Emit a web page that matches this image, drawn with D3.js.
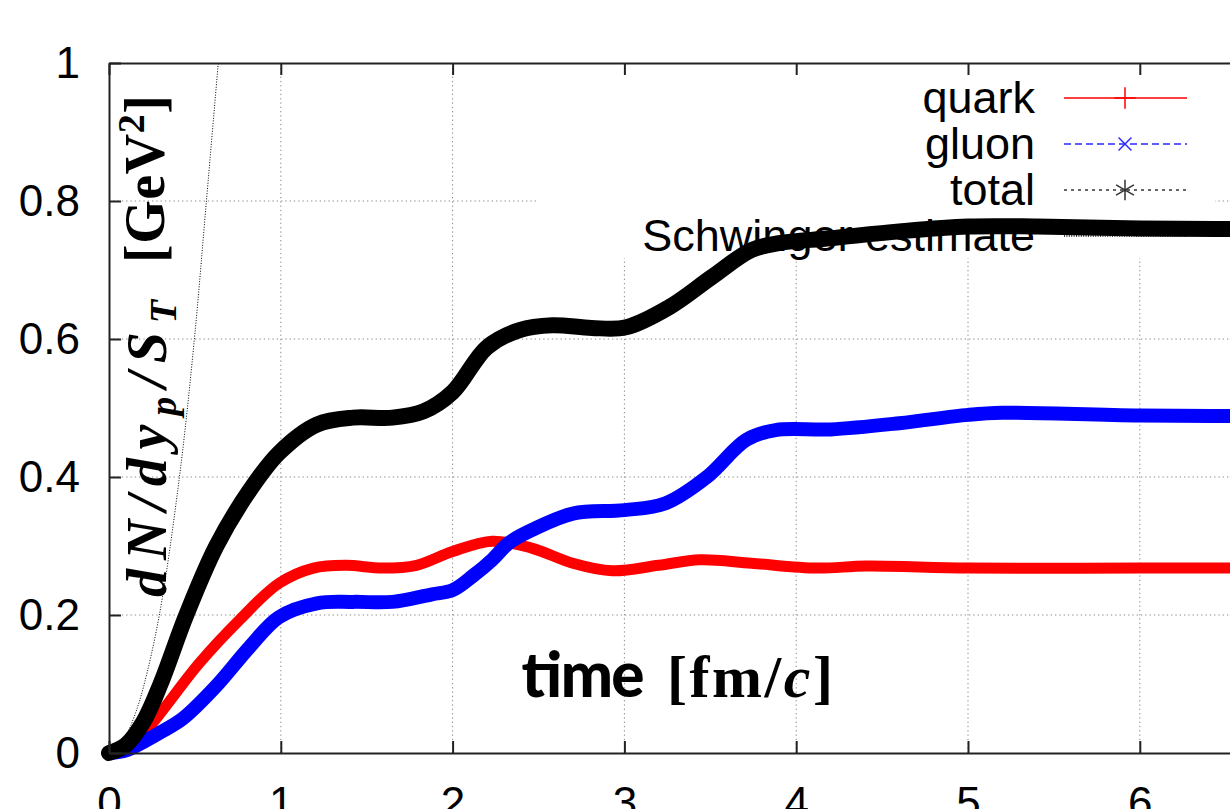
<!DOCTYPE html>
<html>
<head>
<meta charset="utf-8">
<script src="https://cdn.jsdelivr.net/npm/d3@7"></script>
<style>
body{margin:0;background:#fff}
svg{display:block}
</style>
</head>
<body>
<svg id="chart" width="1230" height="809"></svg>
<script>
// [time fm/c, dN/dy/S_T GeV^2]
var quark = [[0,0],[0.1,0.008],[0.2,0.028],[0.3,0.058],[0.525,0.13],[0.76,0.193],[0.99,0.246],[1.19,0.268],[1.38,0.272],[1.59,0.268],[1.79,0.272],[2.0,0.292],[2.23,0.307],[2.46,0.297],[2.7,0.275],[2.93,0.264],[3.2,0.272],[3.44,0.28],[3.74,0.275],[4.12,0.268],[4.41,0.271],[5.0,0.268],[6.0,0.268],[7,0.268]]
var gluon = [[0,0],[0.1,0.004],[0.2,0.016],[0.3,0.03],[0.43,0.05],[0.62,0.096],[0.82,0.154],[0.99,0.197],[1.21,0.217],[1.42,0.219],[1.65,0.219],[1.88,0.23],[2.0,0.236],[2.12,0.257],[2.23,0.28],[2.33,0.305],[2.46,0.323],[2.7,0.347],[3.0,0.352],[3.24,0.362],[3.48,0.4],[3.71,0.454],[3.88,0.468],[4.2,0.469],[4.6,0.478],[5.0,0.49],[5.2,0.493],[6.0,0.489],[7,0.488]]
var total = [[0,0],[0.1,0.012],[0.2,0.045],[0.3,0.1],[0.45,0.2],[0.625,0.3],[0.82,0.381],[0.99,0.435],[1.21,0.476],[1.42,0.486],[1.65,0.486],[1.83,0.495],[2.0,0.523],[2.2,0.588],[2.39,0.613],[2.58,0.62],[2.81,0.616],[3.01,0.617],[3.26,0.646],[3.51,0.69],[3.74,0.729],[3.9,0.739],[4.2,0.746],[4.6,0.756],[5.0,0.763],[5.4,0.763],[6.0,0.76],[7,0.759]]
var schwinger = [[0,0],[0.05,0.006],[0.1,0.025],[0.15,0.055],[0.2,0.095],[0.293,0.2],[0.41,0.4],[0.497,0.6],[0.567,0.8],[0.636,1.0]]

var xTicks = [0,1,2,3,4,5,6,7]
var xTickLabels = ['0','1','2','3','4','5','6','7']
var yTicks = [0,0.2,0.4,0.6,0.8,1]
var yTickLabels = ['0','0.2','0.4','0.6','0.8','1']
var legendLabels = ['quark','gluon','total','Schwinger estimate']

const xScale = d3.scaleLinear().domain([0,7]).range([109, 109+7*171.8])
const yScale = d3.scaleLinear().domain([0,1]).range([753, 63])
const rowY = d3.scaleLinear().domain([0,3]).range([113, 251])

var svg = d3.select('#chart')
svg.append('rect').attr('width',1230).attr('height',809).attr('fill','white')

// grid
var grid = svg.append('g')
grid.selectAll('.gx').data(xTicks.filter(d => d > 0)).enter().append('line')
    .attr('x1', d => xScale(d)).attr('x2', d => xScale(d))
    .attr('y1', yScale(0)).attr('y2', yScale(1))
    .attr('stroke','#888').attr('stroke-width',1).attr('stroke-dasharray','1.3,3')
grid.selectAll('.gy').data(yTicks.filter(d => d > 0 && d < 1)).enter().append('line')
    .attr('x1', xScale(0)).attr('x2', xScale(7))
    .attr('y1', d => yScale(d)).attr('y2', d => yScale(d))
    .attr('stroke','#888').attr('stroke-width',1).attr('stroke-dasharray','1.3,3')

// opaque key box hides grid
svg.append('rect').attr('x',538).attr('y',64).attr('width',677).attr('height',194).attr('fill','white')

// key labels
svg.append('g').selectAll('text').data(legendLabels).enter().append('text')
    .attr('x',1035).attr('y',(d,i) => rowY(i))
    .attr('text-anchor','end')
    .style('font-family','"Liberation Sans", Arial, sans-serif').style('font-size','45px')
    .text(d => d)

const line = d3.line().x(d => xScale(d[0])).y(d => yScale(d[1])).curve(d3.curveCatmullRom.alpha(0.5))

svg.append('path').datum(quark).attr('d',line)
    .attr('fill','none').attr('stroke','#ff0000').attr('stroke-width',11)
    .attr('stroke-linejoin','round').attr('stroke-linecap','round')
svg.append('path').datum(gluon).attr('d',line)
    .attr('fill','none').attr('stroke','#0000ff').attr('stroke-width',14)
    .attr('stroke-linejoin','round').attr('stroke-linecap','round')
svg.append('path').datum(total).attr('d',line)
    .attr('fill','none').attr('stroke','#000').attr('stroke-width',16)
    .attr('stroke-linejoin','round').attr('stroke-linecap','round')

// key samples
var keyStyle = [
    {color:'#ff0000', dash:null, sym:d3.symbolPlus, size:150},
    {color:'#2a2aff', dash:'7,4', sym:d3.symbolTimes, size:110},
    {color:'#333', dash:'3,4', sym:d3.symbolAsterisk, size:300},
    {color:'#000', dash:'1,1.4', sym:null, size:0}
]
keyStyle.forEach(function(k, i){
    var yy = rowY(i) - 15
    svg.append('line').attr('x1',1064).attr('x2',1187).attr('y1',yy).attr('y2',yy)
        .attr('stroke',k.color).attr('stroke-width',1.3)
        .attr('stroke-dasharray',k.dash)
    if(k.sym){
        svg.append('path').attr('d', d3.symbol().type(k.sym).size(k.size)())
            .attr('transform','translate(1125,' + yy + ')')
            .attr('fill','none').attr('stroke',k.color).attr('stroke-width',1.5)
    }
})

svg.append('path').datum(schwinger).attr('d',line)
    .attr('fill','none').attr('stroke','#000').attr('stroke-width',1).attr('stroke-dasharray','1,1.6')

// axes
function styleAxis(g){
    g.select('.domain').attr('stroke','#222').attr('stroke-width',2)
    g.selectAll('.tick line').attr('stroke','#222').attr('stroke-width',2)
    g.selectAll('.tick text').attr('fill','#000')
        .style('font-family','"Liberation Sans", Arial, sans-serif').style('font-size','44px')
}
svg.append('g').attr('transform','translate(0,' + yScale(0) + ')')
    .call(d3.axisBottom(xScale).tickValues(xTicks).tickFormat((d,i) => xTickLabels[i])
        .tickSizeInner(-12).tickSizeOuter(0).tickPadding(34))
    .call(styleAxis)
svg.append('g').attr('transform','translate(0,' + yScale(1) + ')')
    .call(d3.axisTop(xScale).tickValues(xTicks).tickFormat('')
        .tickSizeInner(-12).tickSizeOuter(0))
    .call(styleAxis)
svg.append('g').attr('transform','translate(' + xScale(0) + ',0)')
    .call(d3.axisLeft(yScale).tickValues(yTicks).tickFormat((d,i) => yTickLabels[i])
        .tickSizeInner(-12).tickSizeOuter(0).tickPadding(29))
    .call(styleAxis)

// axis titles
var yt = svg.append('text').attr('transform','translate(166,597) rotate(-90)')
    .attr('textLength',297).attr('lengthAdjust','spacing')
    .style('font-family','"Liberation Serif", "Times New Roman", serif')
    .style('font-weight','bold').style('font-style','italic').style('font-size','56px')
yt.append('tspan').text('dN/dy')
yt.append('tspan').attr('dy',10).style('font-size','38px').text('p')
yt.append('tspan').attr('dy',-10).text('/S')
yt.append('tspan').attr('dy',10).style('font-size','38px').text('T')
var yu = svg.append('text').attr('transform','translate(164,263) rotate(-90)')
    .attr('textLength',168).attr('lengthAdjust','spacing')
    .style('font-family','"Liberation Serif", "Times New Roman", serif')
    .style('font-weight','bold').style('font-size','56px')
yu.append('tspan').text('[GeV')
yu.append('tspan').attr('dy',-20).style('font-size','38px').text('2')
yu.append('tspan').attr('dy',20).text(']')

svg.append('text').attr('x',520).attr('y',697)
    .attr('textLength',123).attr('lengthAdjust','spacing')
    .style('font-family','Lato, "Liberation Sans", sans-serif')
    .style('font-weight','900').style('font-size','62px')
    .text('time')
var xt = svg.append('text').attr('x',667).attr('y',697)
    .attr('textLength',166).attr('lengthAdjust','spacing')
    .style('font-family','"Liberation Serif", "Times New Roman", serif')
    .style('font-weight','bold').style('font-size','60px')
xt.append('tspan').text('[fm/')
xt.append('tspan').style('font-style','italic').text('c')
xt.append('tspan').text(']')
</script>
</body>
</html>
